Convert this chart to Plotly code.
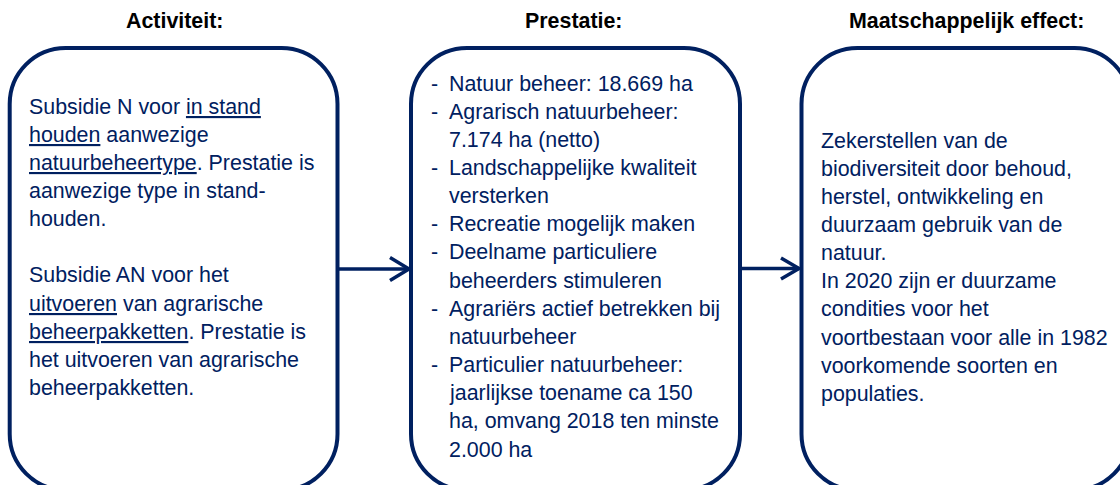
import plotly.graph_objects as go

# ---------------- data (texts) ----------------
titles = ["Activiteit:", "Prestatie:", "Maatschappelijk effect:"]

activiteit_lines = [
    "Subsidie N voor <u>in stand</u>",
    "<u>houden</u> aanwezige",
    "<u>natuurbeheertype</u>. Prestatie is",
    "aanwezige type in stand-",
    "houden.",
    "",
    "Subsidie AN voor het",
    "<u>uitvoeren</u> van agrarische",
    "<u>beheerpakketten</u>. Prestatie is",
    "het uitvoeren van agrarische",
    "beheerpakketten.",
]

prestatie_items = [
    ["Natuur beheer: 18.669 ha"],
    ["Agrarisch natuurbeheer:", "7.174 ha (netto)"],
    ["Landschappelijke kwaliteit", "versterken"],
    ["Recreatie mogelijk maken"],
    ["Deelname particuliere", "beheerders stimuleren"],
    ["Agrariërs actief betrekken bij", "natuurbeheer"],
    ["Particulier natuurbeheer:", "jaarlijkse toename ca 150",
     "ha, omvang 2018 ten minste", "2.000 ha"],
]

effect_lines = [
    "Zekerstellen van de",
    "biodiversiteit door behoud,",
    "herstel, ontwikkeling en",
    "duurzaam gebruik van de",
    "natuur.",
    "In 2020 zijn er duurzame",
    "condities voor het",
    "voortbestaan voor alle in 1982",
    "voorkomende soorten en",
    "populaties.",
]

# ---------------- layout / style ----------------
W, H = 1120, 485
NAVY = "#002060"
FONT = "Liberation Sans, Arial, sans-serif"
FS = 21.4
LS = 28.15          # line spacing (px)
MID = 0.3465 * FS   # baseline - middle offset

box_x = [(9.7, 337.5), (411, 740), (801.5, 1130.5)]
box_top, box_bot, rad = 48, 490, 56
title_cx = [174, 573.5, 966.5]
title_base = 28

fig = go.Figure()
shapes = []
annotations = []


def rounded_rect(x0, y0, x1, y1, r):
    k = 0.5523 * r
    return (f"M {x0+r} {y0} L {x1-r} {y0} "
            f"C {x1-r+k} {y0} {x1} {y0+r-k} {x1} {y0+r} "
            f"L {x1} {y1-r} "
            f"C {x1} {y1-r+k} {x1-r+k} {y1} {x1-r} {y1} "
            f"L {x0+r} {y1} "
            f"C {x0+r-k} {y1} {x0} {y1-r+k} {x0} {y1-r} "
            f"L {x0} {y0+r} "
            f"C {x0} {y0+r-k} {x0+r-k} {y0} {x0+r} {y0} Z")


for (x0, x1) in box_x:
    shapes.append(dict(type="path", xref="x", yref="y",
                       path=rounded_rect(x0, box_top, x1, box_bot, rad),
                       line=dict(color=NAVY, width=4), fillcolor="white",
                       layer="below"))

# arrows between boxes
arrows = [(337.5, 409, 269, 19, 11.5), (740, 799, 268.5, 18, 10.5)]
for (xa, xb, ya, al, ah) in arrows:
    shapes.append(dict(type="line", xref="x", yref="y", x0=xa, x1=xb, y0=ya, y1=ya,
                       line=dict(color=NAVY, width=3.5)))
    shapes.append(dict(type="path", xref="x", yref="y",
                       path=f"M {xb-al} {ya-ah} L {xb} {ya} L {xb-al} {ya+ah}",
                       line=dict(color=NAVY, width=3.5)))

# titles
for t, cx in zip(titles, title_cx):
    annotations.append(dict(x=cx, y=title_base - MID, xref="x", yref="y",
                            text=f"<b>{t}</b>", showarrow=False,
                            xanchor="center", yanchor="middle", borderpad=0,
                            font=dict(family=FONT, size=FS, color="black")))


def add_lines(lines, x, first_base):
    for i, ln in enumerate(lines):
        if not ln:
            continue
        annotations.append(dict(x=x, y=first_base + i * LS - MID, xref="x", yref="y",
                                text=ln, showarrow=False, xanchor="left",
                                yanchor="middle", borderpad=0,
                                font=dict(family=FONT, size=FS, color=NAVY)))


add_lines(activiteit_lines, 27.5, 114)

# prestatie: bullets with hanging indent
base = 91
idx = 0
for item in prestatie_items:
    annotations.append(dict(x=429.5, y=base + idx * LS - MID, xref="x", yref="y",
                            text="-", showarrow=False, xanchor="left",
                            yanchor="middle", borderpad=0,
                            font=dict(family=FONT, size=FS, color=NAVY)))
    add_lines(item, 448, base + idx * LS)
    idx += len(item)

add_lines(effect_lines, 820, 148)

fig.update_layout(
    width=W, height=H,
    margin=dict(l=0, r=0, t=0, b=0),
    paper_bgcolor="white", plot_bgcolor="white",
    xaxis=dict(range=[0, W], visible=False, fixedrange=True),
    yaxis=dict(range=[H, 0], visible=False, fixedrange=True),
    shapes=shapes, annotations=annotations,
    showlegend=False,
)

fig.write_html("out.html", config={"displayModeBar": False},
               post_script="document.body.style.margin='0';document.body.style.overflow='hidden';")
